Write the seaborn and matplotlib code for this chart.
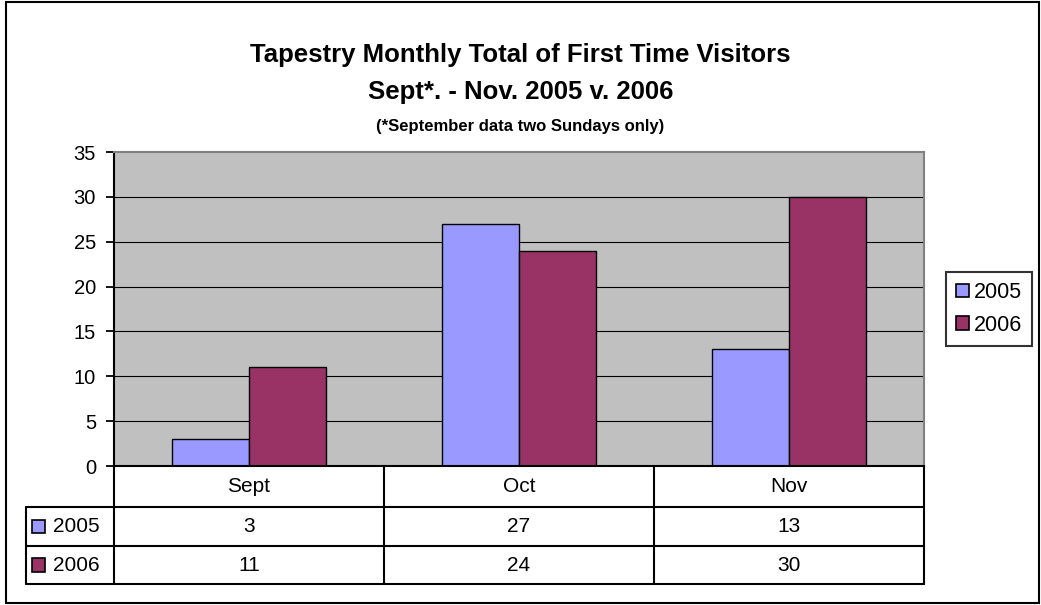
import matplotlib
matplotlib.use("Agg")
import matplotlib.pyplot as plt
from matplotlib.patches import Rectangle
from matplotlib.lines import Line2D
import seaborn as sns
import pandas as pd

months = ["Sept", "Oct", "Nov"]
years = ["2005", "2006"]
visitors_2005 = [3, 27, 13]
visitors_2006 = [11, 24, 30]
colors = {"2005": "#9999FF", "2006": "#993366"}

df = pd.DataFrame({
    "month": months * 2,
    "year": ["2005"] * 3 + ["2006"] * 3,
    "visitors": visitors_2005 + visitors_2006,
})

sns.set_style("white")
plt.rcParams["font.family"] = ["Liberation Sans", "DejaVu Sans"]
plt.rcParams["text.color"] = "black"
plt.rcParams["ytick.labelcolor"] = "black"

fig = plt.figure(figsize=(10.41, 6.05), dpi=100)
ax = fig.add_axes([114 / 1041, 1 - 466 / 605, 810 / 1041, 314 / 605])
ax.set_facecolor("#C0C0C0")

sns.barplot(data=df, x="month", y="visitors", hue="year", order=months,
            hue_order=years, palette=colors, width=0.57, gap=0,
            edgecolor="black", linewidth=1.0, saturation=1, ax=ax, legend=False)

ax.set_ylim(0, 35)
ax.set_yticks(range(0, 36, 5))
ax.set_xlim(-0.5, 2.5)
for y in range(5, 35, 5):
    ax.axhline(y, color="black", lw=0.8, zorder=0.5)
ax.set_axisbelow(True)
ax.tick_params(axis="y", direction="out", length=6, width=1.3, color="black",
               labelsize=14.5, pad=7, left=True)
ax.tick_params(axis="x", bottom=False, labelbottom=False)
ax.set_xlabel("")
ax.set_ylabel("")
for side in ["left", "bottom"]:
    ax.spines[side].set_color("black")
    ax.spines[side].set_linewidth(1.5)
for side in ["top", "right"]:
    ax.spines[side].set_color("#808080")
    ax.spines[side].set_linewidth(1.5)

# data table below the axes (axes coordinates)
y_rows = [0, -0.1306, -0.2548, -0.3758]
x_left = -0.1086
tkw = dict(transform=ax.transAxes, clip_on=False, color="black", lw=1.5)
for x in [0, 1 / 3, 2 / 3, 1]:
    ax.add_line(Line2D([x, x], [y_rows[0], y_rows[3]], **tkw))
ax.add_line(Line2D([x_left, x_left], [y_rows[1], y_rows[3]], **tkw))
for y in y_rows[1:]:
    ax.add_line(Line2D([x_left, 1], [y, y], **tkw))

for i, m in enumerate(months):
    ax.text((i + 0.5) / 3, (y_rows[0] + y_rows[1]) / 2, m, transform=ax.transAxes,
            ha="center", va="center", fontsize=15)
for r, (yr, vals) in enumerate([("2005", visitors_2005), ("2006", visitors_2006)]):
    yc = (y_rows[r + 1] + y_rows[r + 2]) / 2
    for i, v in enumerate(vals):
        ax.text((i + 0.5) / 3, yc, str(v), transform=ax.transAxes,
                ha="center", va="center", fontsize=15)
    ax.add_patch(Rectangle((x_left + 0.0075, yc - 0.021), 0.0165, 0.042,
                           facecolor=colors[yr], edgecolor="black", lw=1.2,
                           transform=ax.transAxes, clip_on=False))
    ax.text(x_left + 0.033, yc, yr, transform=ax.transAxes,
            ha="left", va="center", fontsize=15)

# legend
handles = [Rectangle((0, 0), 1, 1, facecolor=colors[y], edgecolor="black", lw=1.2)
           for y in years]
leg = fig.legend(handles, years, loc="center", bbox_to_anchor=(989 / 1041, 1 - 309 / 605),
                 fontsize=15.5, frameon=True, fancybox=False, handlelength=0.6,
                 handleheight=0.6, handletextpad=0.25, borderpad=0.45, labelspacing=0.55,
                 borderaxespad=0)
leg.get_frame().set_edgecolor("black")
leg.get_frame().set_linewidth(1.5)

fig.text(0.5, 1 - 55 / 605, "Tapestry Monthly Total of First Time Visitors",
         ha="center", va="center", fontsize=18.5, fontweight="bold")
fig.text(0.5, 1 - 92 / 605, "Sept*. - Nov. 2005 v. 2006",
         ha="center", va="center", fontsize=18.5, fontweight="bold")
fig.text(0.5, 1 - 126 / 605, "(*September data two Sundays only)",
         ha="center", va="center", fontsize=12, fontweight="bold")

fig.add_artist(Rectangle((6 / 1041, 2 / 605), 1033 / 1041, 601 / 605,
                         transform=fig.transFigure, fill=False,
                         edgecolor="black", lw=1.5))

fig.savefig("out.png", dpi=100)
